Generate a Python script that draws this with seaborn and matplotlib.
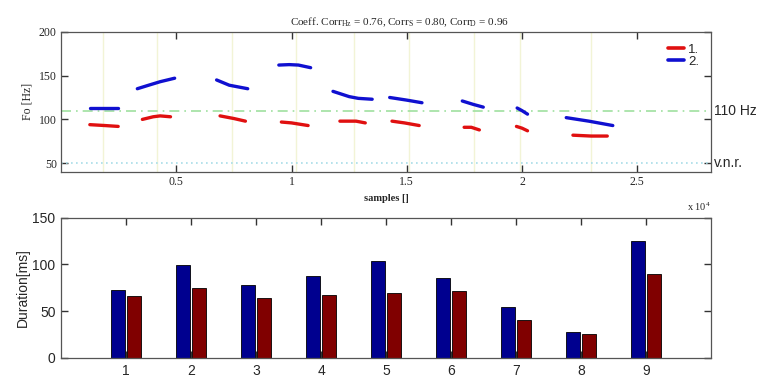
import numpy as np
import pandas as pd
import seaborn as sns
import matplotlib.pyplot as plt
from matplotlib.lines import Line2D

sns.set_theme(style="ticks")
plt.rcParams["mathtext.fontset"] = "custom"
plt.rcParams["mathtext.rm"] = "Liberation Serif"
plt.rcParams["mathtext.it"] = "Liberation Serif:italic"
plt.rcParams["xtick.direction"] = "in"
plt.rcParams["ytick.direction"] = "in"

# F0 contours (x in samples / 1e4, Hz), one list per segment
seg_x1 = [[0.125, 0.19, 0.248], [0.353, 0.40, 0.43, 0.475], [0.69, 0.75, 0.80],
          [0.956, 1.0, 1.072], [1.21, 1.28, 1.32], [1.436, 1.49, 1.554],
          [1.749, 1.78, 1.815], [1.976, 2.0, 2.024], [2.221, 2.30, 2.37]]
seg_y1 = [[94, 93, 92], [100, 103, 104, 103], [104, 101, 98],
          [97, 96, 93], [98, 98, 96], [98, 96, 93],
          [91, 91, 88], [92, 90, 87], [82, 81, 81]]
seg_x2 = [[0.125, 0.19, 0.248], [0.331, 0.38, 0.43, 0.493], [0.675, 0.73, 0.77, 0.81],
          [0.945, 0.99, 1.03, 1.083], [1.18, 1.25, 1.29, 1.35], [1.426, 1.50, 1.566],
          [1.741, 1.79, 1.832], [1.979, 2.0, 2.024], [2.192, 2.29, 2.394]]
seg_y2 = [[113, 113, 113], [135, 139, 143, 147], [145, 139, 137, 135],
          [162, 162.5, 162, 159], [132, 126, 124, 123], [125, 122, 119],
          [121, 117, 114], [113, 110, 106], [102, 98, 93]]
markers = [0.18, 0.415, 0.743, 1.02, 1.27, 1.51, 1.79, 1.99, 2.30]

# durations per word
words = [1, 2, 3, 4, 5, 6, 7, 8, 9]
dur1 = [72.5, 99, 78.5, 88, 104, 85, 54, 27.5, 125]
dur2 = [66, 74.5, 64.5, 67, 69, 71.5, 40.5, 26, 90]

rows = []
for spk, xs, ys in (("1.", seg_x1, seg_y1), ("2.", seg_x2, seg_y2)):
    for i, (sx, sy) in enumerate(zip(xs, ys)):
        for a, b in zip(sx, sy):
            rows.append({"x": a, "f0": b, "spk": spk, "seg": i})
f0 = pd.DataFrame(rows)

dur = pd.DataFrame({"word": [str(w) for w in words] * 2,
                    "ms": dur1 + dur2,
                    "spk": ["1"] * 9 + ["2"] * 9})

fig = plt.figure(figsize=(7.6, 3.78), dpi=100)
ax1 = fig.add_axes([0.0803, 0.545, 0.8552, 0.371])
ax2 = fig.add_axes([0.0803, 0.053, 0.8552, 0.371])

serif = "Liberation Serif"
sans = "Liberation Sans"

# top: F0 contours
for m in markers:
    ax1.axvline(m, color="#f2f4d6", lw=1, zorder=0)
ax1.axhline(110, color="#9fe09f", lw=1.2, ls=(0, (6, 3, 1, 3)), zorder=1)
ax1.axhline(50, color="#a8dde8", lw=1.2, ls=(0, (1, 2)), zorder=1)
sns.lineplot(data=f0, x="x", y="f0", hue="spk", units="seg", estimator=None,
             palette={"1.": "#e01010", "2.": "#1010d0"}, lw=2.4, legend=False,
             ax=ax1, zorder=3)
ax1.set_xlim(0, 2.82)
ax1.set_ylim(40, 200)
ax1.set_xticks([0.5, 1, 1.5, 2, 2.5])
ax1.set_xticklabels(["0.5", "1", "1.5", "2", "2.5"], family=serif, fontsize=8.5)
ax1.set_yticks([50, 100, 150, 200])
ax1.set_yticklabels(["50", "100", "150", "200"], family=serif, fontsize=8.5)
ax1.set_xlabel("samples []", family=serif, fontsize=7.5, fontweight="bold", labelpad=4)
ax1.set_ylabel("Fo [Hz]", family=serif, fontsize=8.5, labelpad=4)
ax1.set_title(r"Coeff. Corr$_{\mathrm{Hz}}$ = 0.76, Corr$_{\mathrm{S}}$ = 0.80, Corr$_{\mathrm{D}}$ = 0.96",
              family=serif, fontsize=8, pad=5, x=0.52)
tr = ax1.get_yaxis_transform()
ax1.text(1.005, 110, "110 Hz", transform=tr, va="center", ha="left", family=sans, fontsize=10)
ax1.text(1.005, 50, "v.n.r.", transform=tr, va="center", ha="left", family=sans, fontsize=10)
ax1.text(1.0, -0.25, r"x 10$^{4}$", transform=ax1.transAxes, ha="right", va="center",
         family=serif, fontsize=7.5)
handles = [Line2D([], [], color="#e01010", lw=2.6), Line2D([], [], color="#1010d0", lw=2.6)]
ax1.legend(handles, ["1.", "2."], loc="upper right", frameon=False, handlelength=1.2,
           labelspacing=0.0, handletextpad=0.3, borderaxespad=0.5,
           prop={"family": sans, "size": 9.5})

# bottom: durations
sns.barplot(data=dur, x="word", y="ms", hue="spk", palette=["#00008f", "#800000"],
            saturation=1, width=0.5, gap=0.1, edgecolor="black", linewidth=0.6,
            legend=False, ax=ax2)
ax2.set_xlim(-1, 9)
ax2.set_ylim(0, 150)
ax2.set_yticks([0, 50, 100, 150])
ax2.set_yticklabels(["0", "50", "100", "150"], family=sans, fontsize=10)
ax2.set_xticks(range(9))
ax2.set_xticklabels([str(w) for w in words], family=sans, fontsize=10)
ax2.set_xlabel("")
ax2.set_ylabel("Duration[ms]", family=sans, fontsize=10, labelpad=2)

for ax in (ax1, ax2):
    for s in ax.spines.values():
        s.set_visible(True)
        s.set_color("#555555")
        s.set_linewidth(0.9)
    for axis in (ax.xaxis, ax.yaxis):
        axis.set_tick_params(which="major", direction="in", length=5, width=1,
                             color="#333333", tick1On=True, tick2On=True)
ax1.tick_params(pad=3)
ax2.tick_params(pad=4)

fig.savefig("out.png", dpi=100)
